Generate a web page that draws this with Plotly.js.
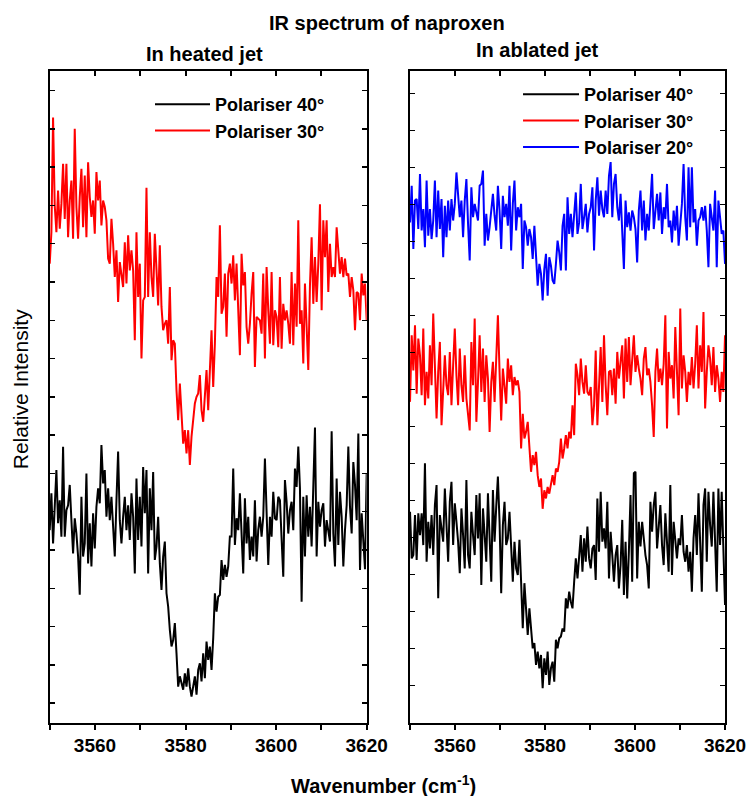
<!DOCTYPE html>
<html>
<head>
<meta charset="utf-8">
<script src="https://cdn.plot.ly/plotly-3.0.1.min.js"></script>
<style>html,body{margin:0;padding:0;background:#fff;}#chart{width:750px;height:796px;}</style>
</head>
<body>
<div id="chart"></div>
<script>
// ---- data (relative intensity, arbitrary offset units) ----
const wnStart = 3550, wnEnd = 3620, nPoints = 191;
const xTickVals = [3550, 3560, 3570, 3580, 3590, 3600, 3610, 3620];
const xTickText = ['', '3560', '', '3580', '', '3600', '', '3620'];
const yTickValsLeft = [0,1,2,3,4,5,6,7,8,9,10,11,12,13,14,15,16];
const yTickValsRight = [0,1,2,3,4,5,6,7,8,9,10,11,12,13,14,15,16];

const heatedPol40 = [4.52,5.48,4.17,5.39,6.09,4.7,5.3,4.35,6.7,4.35,
5.04,5.17,5.7,4.78,3.91,4.83,4.43,3.83,2.83,5.39,
3.83,4.17,6.0,3.65,4.7,3.57,4.96,4.04,5.13,5.61,
5.22,6.74,5.74,6.09,4.87,5.61,4.78,5.39,4.52,3.83,
5.3,6.57,4.78,4.17,4.87,5.39,4.52,5.17,4.26,5.48,
4.87,3.39,5.87,4.26,5.39,4.09,6.17,4.96,6.09,3.39,
5.61,4.52,6.04,3.74,4.09,4.87,3.65,2.96,3.83,4.22,
2.87,2.52,1.91,1.48,1.65,2.09,1.3,0.43,0.7,0.48,
0.35,0.78,0.43,0.91,0.43,0.17,0.43,0.7,0.22,0.87,
1.04,0.57,1.3,0.65,1.61,1.13,1.48,0.87,1.7,2.87,
2.39,2.78,2.83,3.74,3.22,3.61,3.3,3.57,4.35,4.35,
6.13,4.13,4.83,4.52,5.48,4.17,3.39,5.35,4.17,4.87,
3.74,4.35,3.83,5.3,3.7,4.52,4.87,4.35,4.87,6.39,
4.87,3.61,4.87,4.35,5.52,4.83,4.78,5.39,5.3,4.13,
3.3,5.83,5.26,4.43,5.04,5.26,4.52,6.13,5.65,6.7,
5.61,2.65,5.39,3.83,5.43,4.35,5.13,4.09,5.39,7.2,
3.83,5.26,4.61,5.04,5.22,4.09,4.78,4.52,4.22,7.1,
4.43,3.57,5.87,4.13,5.52,4.87,3.57,4.52,5.17,6.7,
5.13,4.43,6.3,5.7,4.78,7.04,3.48,4.96,4.17,3.5,
6.0];

const heatedPol30 = [11.48,12.3,15.3,13.0,12.3,13.39,12.39,13.04,14.09,12.65,
14.09,12.17,13.13,13.65,12.13,15.0,12.96,12.13,13.22,13.96,
12.43,13.78,12.17,14.13,13.22,12.7,13.13,12.26,13.87,13.13,
13.65,12.48,13.13,12.96,12.61,11.61,11.48,12.65,12.0,11.13,
11.83,10.48,11.52,11.22,10.87,12.04,10.96,12.22,11.3,11.83,
11.3,9.48,12.3,10.61,11.48,9.0,10.52,10.61,13.46,10.61,
12.3,11.13,10.61,12.26,11.3,10.39,11.96,10.35,9.74,9.91,
10.0,9.39,10.87,8.96,9.48,9.39,8.17,7.39,8.35,7.39,
6.78,7.13,6.52,7.13,6.22,6.96,7.39,7.83,8.0,8.09,
8.57,7.65,7.35,8.09,8.7,7.65,8.87,9.74,8.26,9.39,
11.13,10.61,12.48,10.17,10.35,11.22,9.57,11.22,11.48,10.96,
11.7,10.52,11.48,10.09,9.09,11.74,10.91,11.26,9.83,9.39,
9.91,10.7,11.26,8.78,10.09,10.04,10.0,9.65,11.22,9.0,
11.39,10.26,9.39,11.26,9.35,10.26,10.09,9.3,11.13,9.26,
10.43,10.0,10.26,9.91,9.39,11.26,9.35,10.96,9.83,12.61,
9.91,10.26,8.87,10.96,9.91,8.7,10.91,12.17,10.43,11.65,
10.48,11.48,13.03,10.26,12.61,11.65,12.61,10.74,12.0,11.13,
11.39,11.13,12.43,11.83,11.22,11.65,11.13,11.61,11.17,11.22,
10.61,11.13,10.78,9.74,10.74,10.7,10.0,11.22,10.65,10.96,
10.0];

const ablatedPol40 = [4.69,3.43,3.52,4.6,3.39,4.65,4.06,4.65,3.79,6.0,
3.34,4.42,3.7,4.6,3.52,4.87,5.41,2.35,4.6,4.24,
3.88,5.32,4.15,3.34,4.96,5.5,3.79,4.92,4.42,3.88,
3.03,4.78,4.06,3.16,5.55,3.52,3.16,4.69,4.06,3.52,
5.14,3.97,5.19,2.71,4.78,3.97,3.34,5.19,4.15,2.8,
5.28,3.88,4.83,5.64,4.42,2.49,4.33,4.96,3.79,3.97,
4.69,3.88,2.8,3.88,3.16,2.98,3.93,2.8,1.54,2.76,
2.08,1.36,2.08,1.54,1.0,1.14,0.55,0.91,0.46,0.82,
-0.08,0.73,0.28,0.91,0.01,0.46,0.64,0.1,1.23,1.0,
1.27,1.32,1.54,1.45,2.35,2.08,2.53,2.26,2.08,2.8,
3.43,2.89,3.43,4.06,3.07,3.97,3.34,4.29,3.43,3.16,
3.7,3.79,2.85,5.05,3.61,5.23,3.88,4.24,3.7,4.96,
2.89,4.15,3.52,2.8,3.52,3.79,2.62,3.25,4.47,2.44,
3.88,2.35,3.61,5.14,2.8,5.73,5.77,2.89,4.42,3.75,
4.42,3.88,3.52,3.25,2.62,4.96,4.15,4.87,5.23,3.7,
4.33,4.87,3.79,3.25,4.65,3.88,3.07,5.41,2.98,4.42,
3.88,3.43,3.97,3.79,4.6,3.61,3.34,3.79,3.07,3.61,
2.53,3.97,4.6,3.52,5.19,3.97,2.53,4.87,5.32,3.34,
5.23,4.33,3.75,5.23,3.97,2.53,5.32,3.79,5.23,3.52,
2.17];

const ablatedPol30 = [7.66,9.46,8.51,9.73,7.88,9.37,8.92,7.84,9.64,7.57,
8.47,7.75,9.19,8.11,10.05,8.47,7.21,8.47,9.28,7.03,
8.02,8.92,8.11,7.84,9.01,7.57,8.65,9.64,8.38,7.57,
9.1,8.11,7.66,8.92,7.75,7.3,6.89,9.28,8.11,9.91,
7.12,8.2,9.46,7.93,9.1,7.66,8.92,8.29,6.85,8.2,
8.74,7.66,8.65,10.0,8.47,7.16,8.56,8.11,7.61,8.83,
8.2,8.65,7.84,8.33,8.11,8.24,7.93,6.4,7.34,6.67,
6.85,7.12,6.31,5.77,6.22,5.95,6.31,5.68,5.36,5.59,
4.77,5.27,5.05,5.36,5.18,5.45,5.68,5.41,5.86,5.77,
6.04,6.67,6.13,6.4,6.76,6.4,6.85,6.67,7.57,6.76,
8.69,8.38,7.84,8.83,8.2,7.88,8.65,7.93,7.84,8.06,
7.03,7.57,9.05,7.03,8.11,9.14,7.66,9.46,8.11,7.3,
8.47,8.51,7.84,8.56,7.61,9.01,8.29,8.74,9.19,7.75,
9.37,8.2,9.41,8.11,8.83,9.46,8.47,8.92,8.56,8.29,
7.84,8.83,9.14,8.38,8.56,8.2,7.57,6.71,8.47,9.1,
8.2,8.56,8.11,8.69,10.0,6.94,9.01,8.29,8.65,7.75,
9.68,8.47,7.3,10.18,8.02,8.92,8.47,7.66,8.47,8.11,
8.87,8.02,8.69,9.73,8.02,9.19,8.47,10.09,7.48,8.47,
9.19,8.83,8.11,9.14,7.93,8.65,8.29,7.66,8.47,7.93,
9.46];

const ablatedPol20 = [12.51,13.5,11.79,13.1,13.14,12.33,13.82,12.29,12.87,11.84,
13.64,12.15,12.87,12.06,12.56,13.64,12.11,13.37,12.33,13.14,
11.57,12.96,12.11,13.1,12.29,13.14,12.56,13.01,13.86,13.28,
12.65,13.1,12.11,13.1,13.68,12.47,11.48,13.46,12.65,13.01,
12.78,12.56,13.5,13.55,13.91,11.88,12.74,12.02,12.38,12.83,
13.28,12.69,12.29,13.5,12.83,11.79,13.23,12.65,13.01,12.42,
13.5,11.75,13.01,13.64,12.29,12.92,12.65,13.01,11.25,12.56,
12.38,11.88,12.33,12.11,11.52,12.42,11.39,10.8,11.39,11.12,
10.4,11.25,11.66,10.53,11.57,11.34,10.94,10.85,11.39,12.02,
11.7,11.21,12.42,12.74,11.21,13.19,12.2,12.74,12.11,12.87,
13.32,12.2,12.51,13.55,12.33,12.65,13.01,12.24,12.74,12.92,
13.46,11.75,13.1,13.73,12.69,13.37,12.87,12.65,13.37,12.74,
13.77,14.14,12.65,13.55,13.82,12.92,12.56,13.28,12.29,11.25,
13.1,12.38,12.78,12.29,12.83,12.65,12.33,11.43,12.83,13.37,
12.29,13.1,12.02,12.74,12.29,13.01,13.82,12.33,12.83,13.28,
12.56,13.32,12.2,12.92,12.6,13.55,12.38,12.56,11.97,12.83,
12.29,12.96,11.88,12.56,13.01,14.09,12.65,12.02,14.0,12.38,
14.0,12.51,12.87,11.88,12.56,12.65,12.92,12.56,12.96,12.29,
11.3,13.01,12.65,12.29,13.37,11.3,13.1,12.65,12.2,12.29,
11.39];

const seriesNames = ['Polariser 40°', 'Polariser 30°', 'Polariser 20°'];
const seriesColors = ['#000000', '#ff0000', '#0000ff'];

// wavenumber grid of the recorded spectra
const wn = Array.from({length: nPoints}, (_, i) => wnStart + i * (wnEnd - wnStart) / (nPoints - 1));

const FONT = 'Arial, "Liberation Sans", sans-serif';
const LW = 2;

const traces = [
  {x: wn, y: heatedPol40, xaxis: 'x', yaxis: 'y', name: seriesNames[0], line: {color: seriesColors[0], width: LW}, legend: 'legend'},
  {x: wn, y: heatedPol30, xaxis: 'x', yaxis: 'y', name: seriesNames[1], line: {color: seriesColors[1], width: LW}, legend: 'legend'},
  {x: wn, y: ablatedPol40, xaxis: 'x2', yaxis: 'y2', name: seriesNames[0], line: {color: seriesColors[0], width: LW}, legend: 'legend2'},
  {x: wn, y: ablatedPol30, xaxis: 'x2', yaxis: 'y2', name: seriesNames[1], line: {color: seriesColors[1], width: LW}, legend: 'legend2'},
  {x: wn, y: ablatedPol20, xaxis: 'x2', yaxis: 'y2', name: seriesNames[2], line: {color: seriesColors[2], width: LW}, legend: 'legend2'},
  // empty helper traces so the top (inward-tick) axes are created
  {x: [], y: [], xaxis: 'x3', yaxis: 'y', showlegend: false},
  {x: [], y: [], xaxis: 'x4', yaxis: 'y2', showlegend: false}
].map(t => Object.assign({type: 'scatter', mode: 'lines', hoverinfo: 'skip'}, t));

const yDom = [0.0921, 0.9112];
function xBottom(domain, anchor) {
  return {
    domain: domain, anchor: anchor, range: [wnStart, wnEnd],
    tickmode: 'array', tickvals: xTickVals, ticktext: xTickText,
    ticks: 'outside', ticklen: 5, tickwidth: 2, tickcolor: '#000',
    showline: true, linewidth: 2, linecolor: '#000', mirror: true,
    showgrid: false, zeroline: false,
    tickfont: {family: FONT, size: 19, color: '#000', weight: 'bold'}
  };
}
function xTop(overlay, anchor) {
  return {
    overlaying: overlay, anchor: anchor, side: 'top', range: [wnStart, wnEnd],
    tickmode: 'array', tickvals: xTickVals, showticklabels: false,
    ticks: 'inside', ticklen: 5, tickwidth: 2, tickcolor: '#000',
    showline: false, showgrid: false, zeroline: false
  };
}
function yAx(anchor, range, vals) {
  return {
    domain: yDom, anchor: anchor, range: range,
    tickmode: 'array', tickvals: vals, showticklabels: false,
    ticks: 'inside', ticklen: 5, tickwidth: 1.5, tickcolor: '#000',
    showline: true, linewidth: 2, linecolor: '#000', mirror: 'ticks',
    showgrid: false, zeroline: false
  };
}
const legFont = {family: FONT, size: 18, color: '#000', weight: 'bold'};

const layout = {
  width: 750, height: 796,
  margin: {l: 0, r: 0, t: 0, b: 0},
  paper_bgcolor: '#fff', plot_bgcolor: '#fff',
  showlegend: true,
  font: {family: FONT, color: '#000'},
  xaxis: xBottom([0.0663, 0.4889], 'y'),
  xaxis2: xBottom([0.5467, 0.9667], 'y2'),
  xaxis3: xTop('x', 'y'),
  xaxis4: xTop('x2', 'y2'),
  yaxis: yAx('x', [-0.51, 16.52], yTickValsLeft),
  yaxis2: yAx('x2', [-1.01, 16.61], yTickValsRight),
  legend: {x: 0.2, xanchor: 'left', y: 0.892, yanchor: 'top', itemwidth: 55,
           font: legFont, bgcolor: 'rgba(0,0,0,0)', borderwidth: 0},
  legend2: {x: 0.6907, xanchor: 'left', y: 0.9045, yanchor: 'top', itemwidth: 56,
            font: legFont, bgcolor: 'rgba(0,0,0,0)', borderwidth: 0},
  annotations: [
    {text: 'IR spectrum of naproxen', x: 0.516, y: 0.971},
    {text: 'In heated jet', x: 0.272, y: 0.932},
    {text: 'In ablated jet', x: 0.717, y: 0.937},
    {text: 'Wavenumber (cm<sup>-1</sup>)', x: 0.511, y: 0.015},
    {text: 'Relative Intensity', x: 0.0267, y: 0.511, textangle: -90, bold: false, size: 21}
  ].map(a => ({
    text: a.text, x: a.x, y: a.y, xref: 'paper', yref: 'paper',
    xanchor: 'center', yanchor: 'middle', showarrow: false,
    textangle: a.textangle || 0,
    font: {family: FONT, size: a.size || 20, color: '#000', weight: a.bold === false ? 'normal' : 'bold'}
  }))
};

Plotly.newPlot('chart', traces, layout, {staticPlot: true, displayModeBar: false});
</script>
</body>
</html>
